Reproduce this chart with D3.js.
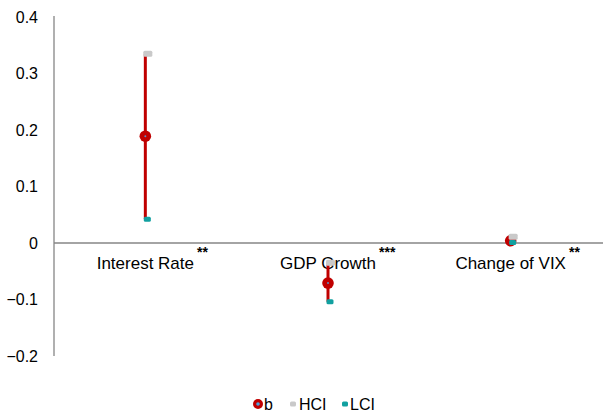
<!DOCTYPE html>
<html>
<head>
  <meta charset='utf-8'>
  <style>
  body { margin: 0; background: #fff; }
  text { font-family: 'Liberation Sans', Arial, sans-serif; fill: #000; }
  .axis path { stroke: #868686; stroke-width: 1.3px; }
  .axis .tick line { display: none; }
  </style>
</head>
<body>
<script src='https://cdnjs.cloudflare.com/ajax/libs/d3/7.8.5/d3.min.js'></script>
<script>

var categories = ['Interest Rate', 'GDP Growth', 'Change of VIX'];
var stars = ['**', '***', '**'];
var b = [0.189, -0.071, 0.004];
var hci = [0.335, -0.035, 0.011];
var lci = [0.042, -0.104, 0.001];
var yTicks = [0.4, 0.3, 0.2, 0.1, 0, -0.1, -0.2];

var W = 603, H = 417;

var svg = d3.select('body').append('svg')
    .attr('width', W).attr('height', H);

var x = d3.scaleBand()
    .domain(categories)
    .range([54, 602]);

var y = d3.scaleLinear()
    .domain([-0.2, 0.4])
    .range([356, 17]);

var yAxis = svg.append('g')
    .attr('class', 'axis')
    .attr('transform', 'translate(54,0)')
    .call(d3.axisLeft(y).tickValues(yTicks).tickSize(0).tickPadding(16)
      .tickFormat(function(d) { return d === 0 ? '0' : d3.format('.1f')(d); }));
yAxis.selectAll('text').attr('font-size', 16).style('font-size', '16px');
yAxis.select('.domain').attr('d', 'M0,' + (y(0.4) - 1) + 'V' + y(-0.2));

var xAxis = svg.append('g')
    .attr('class', 'axis')
    .attr('transform', 'translate(0,' + y(0) + ')')
    .call(d3.axisBottom(x).tickSize(0).tickPadding(14));
xAxis.selectAll('text').attr('font-size', 17).style('font-size', '17px');
xAxis.select('.domain').attr('d', 'M54,0H603');

// significance stars as superscript tspans, label stays centred on the band
xAxis.selectAll('.tick text').each(function(d, i) {
  var t = d3.select(this);
  var w = this.getComputedTextLength();
  t.attr('text-anchor', 'start').attr('x', -w / 2).attr('dy', null).attr('y', 26);
  t.append('tspan')
      .attr('dx', 3)
      .attr('dy', -12)
      .style('font-size', '14px')
      .style('font-weight', 'bold')
      .text(stars[i]);
});

var idx = d3.range(categories.length);
var cx = function(i) { return x(categories[i]) + x.bandwidth() / 2; };

// CI lines
svg.selectAll('.ci')
  .data(idx)
  .enter().append('line')
    .attr('x1', cx).attr('x2', cx)
    .attr('y1', function(i) { return y(hci[i]); })
    .attr('y2', function(i) { return y(lci[i]); })
    .attr('stroke', '#C00000')
    .attr('stroke-width', 3);

// b markers
svg.selectAll('.b')
  .data(idx)
  .enter().append('circle')
    .attr('cx', cx)
    .attr('cy', function(i) { return y(b[i]); })
    .attr('r', 5.8)
    .attr('fill', '#C00000');
svg.selectAll('.bdot')
  .data(idx)
  .enter().append('circle')
    .attr('cx', cx)
    .attr('cy', function(i) { return y(b[i]); })
    .attr('r', 1)
    .attr('fill', '#5b8fc7');

// HCI markers
svg.selectAll('.hci')
  .data(idx)
  .enter().append('rect')
    .attr('x', function(i) { return cx(i) - 2; })
    .attr('y', function(i) { return y(hci[i]) - 3; })
    .attr('width', 9).attr('height', 6).attr('rx', 1.5)
    .attr('fill', '#C9C9C9');

// LCI markers
svg.selectAll('.lci')
  .data(idx)
  .enter().append('rect')
    .attr('x', function(i) { return cx(i) - 1.5; })
    .attr('y', function(i) { return y(lci[i]) - 2.5; })
    .attr('width', 7).attr('height', 5).attr('rx', 1.5)
    .attr('fill', '#11A0A0');

// legend
var leg = svg.append('g').attr('transform', 'translate(258,404)');
leg.append('circle').attr('cx', 0).attr('cy', 0).attr('r', 5).attr('fill', '#C00000');
leg.append('circle').attr('cx', 0).attr('cy', 0).attr('r', 1.8).attr('fill', '#4aa3df');
leg.append('text').attr('x', 6).attr('y', 6).style('font-size', '16px').text('b');
leg.append('rect').attr('x', 32).attr('y', -2.5).attr('width', 6).attr('height', 5).attr('rx', 1.5).attr('fill', '#C9C9C9');
leg.append('text').attr('x', 41).attr('y', 6).style('font-size', '16px').text('HCI');
leg.append('rect').attr('x', 84).attr('y', -2.5).attr('width', 6).attr('height', 5).attr('rx', 1.5).attr('fill', '#11A0A0');
leg.append('text').attr('x', 92).attr('y', 6).style('font-size', '16px').text('LCI');

</script>
</body>
</html>
